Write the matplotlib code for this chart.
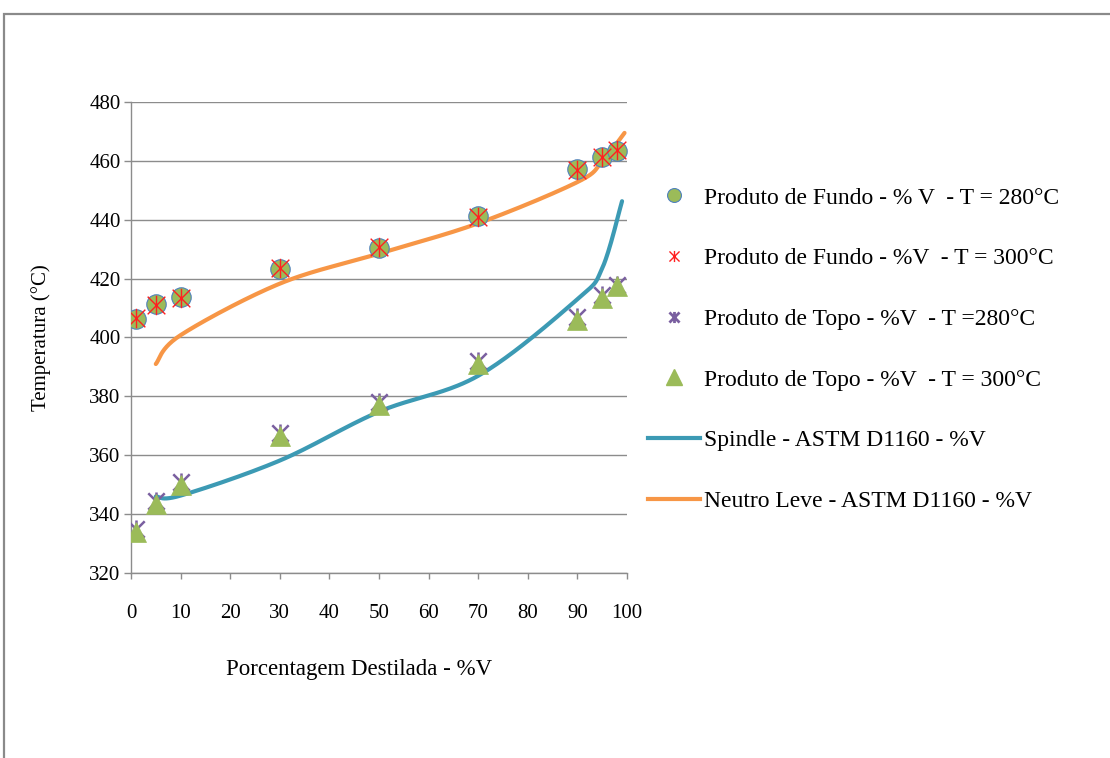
import numpy as np
import matplotlib
matplotlib.use("Agg")
import matplotlib.pyplot as plt
from matplotlib.path import Path
from matplotlib.lines import Line2D
from matplotlib.patches import Rectangle

plt.rcParams["font.family"] = ["Liberation Serif", "DejaVu Serif"]

# Distilled fraction (%V) at which samples were collected
pct_points = [1, 5, 10, 30, 50, 70, 90, 95, 98]

fundo_280 = [406.4, 411.4, 413.7, 423.4, 430.5, 441.2, 457.2, 461.4, 463.4]
fundo_300 = [406.6, 411.2, 413.5, 423.5, 430.6, 441.0, 457.0, 461.2, 463.6]
topo_280 = [335.0, 344.5, 351.0, 367.5, 378.0, 392.0, 407.0, 414.5, 418.0]
topo_300 = [334.0, 343.5, 350.0, 366.5, 377.0, 391.0, 406.0, 413.5, 417.5]

# ASTM D1160 reference curves
spindle_pct = [5, 10, 30, 50, 70, 90, 95, 99]
spindle_temp = [346.0, 346.3, 358.2, 374.8, 387.0, 413.0, 423.5, 446.3]
neutro_pct = [5, 10, 30, 50, 70, 90, 95, 99.5]
neutro_temp = [391.0, 400.8, 418.3, 428.5, 438.8, 452.8, 459.8, 469.5]

x_ticks = list(range(0, 101, 10))
y_ticks = list(range(320, 481, 20))

legend_labels = [
    "Produto de Fundo - % V  - T = 280°C",
    "Produto de Fundo - %V  - T = 300°C",
    "Produto de Topo - %V  - T =280°C",
    "Produto de Topo - %V  - T = 300°C",
    "Spindle - ASTM D1160 - %V",
    "Neutro Leve - ASTM D1160 - %V",
]

GREEN = "#9BBB59"
BLUE_EDGE = "#4F81BD"
RED = "#FF2020"
PURPLE = "#7A5FA0"
TEAL = "#3C9AB4"
ORANGE = "#F79646"
GRID = "#8C8C8C"


def smooth(xs, ys, n=40):
    """Catmull-Rom smoothing through the given points (spreadsheet-style smoothed line)."""
    xs = np.asarray(xs, float)
    ys = np.asarray(ys, float)
    px = np.concatenate([[xs[0]], xs, [xs[-1]]])
    py = np.concatenate([[ys[0]], ys, [ys[-1]]])
    outx, outy = [], []
    t = np.linspace(0, 1, n)
    for i in range(1, len(px) - 2):
        p0, p1, p2, p3 = (np.array([px[j], py[j]]) for j in range(i - 1, i + 3))
        c1 = p1 + (p2 - p0) / 6.0
        c2 = p2 - (p3 - p1) / 6.0
        b = ((1 - t) ** 3)[:, None] * p1 + (3 * (1 - t) ** 2 * t)[:, None] * c1 \
            + (3 * (1 - t) * t ** 2)[:, None] * c2 + (t ** 3)[:, None] * p2
        outx.extend(b[:, 0])
        outy.extend(b[:, 1])
    return np.array(outx), np.array(outy)


# X with a vertical bar, like a spreadsheet "star" marker
star_marker = Path(
    [(-1, -1), (1, 1), (-1, 1), (1, -1), (0, -1.1), (0, 1.1)],
    [Path.MOVETO, Path.LINETO, Path.MOVETO, Path.LINETO, Path.MOVETO, Path.LINETO],
)

fig = plt.figure(figsize=(11.10, 7.58), dpi=100)
ax = fig.add_axes([131 / 1110, 1 - 573 / 758, (627 - 131) / 1110, (573 - 102) / 758])

# Outer chart frame
fig.patches.append(Rectangle((4 / 1110, -0.05), 1.2, 1 - 14 / 758 + 0.05,
                             transform=fig.transFigure, fill=False,
                             edgecolor="#8A8A8A", linewidth=1.6, zorder=0))

ax.set_xlim(0, 100)
ax.set_ylim(320, 480)
ax.set_xticks(x_ticks)
ax.set_yticks(y_ticks)
ax.yaxis.grid(True, color=GRID, linewidth=1.0)
ax.set_axisbelow(True)
for s in ("top", "right"):
    ax.spines[s].set_visible(False)
for s in ("left", "bottom"):
    ax.spines[s].set_color(GRID)
    ax.spines[s].set_linewidth(1.0)
ax.tick_params(axis="both", direction="out", length=5, width=1.0, color=GRID,
               labelsize=15, labelcolor="black")
ax.tick_params(axis="x", length=4.5, pad=18)
ax.tick_params(axis="y", pad=2.5)

sx, sy = smooth(spindle_pct, spindle_temp)
ax.plot(sx, sy, color=TEAL, linewidth=3.0, solid_capstyle="round", zorder=2)
nx, ny = smooth(neutro_pct, neutro_temp)
ax.plot(nx, ny, color=ORANGE, linewidth=3.0, solid_capstyle="round", zorder=2)

ax.plot(pct_points, fundo_280, linestyle="none", marker="o", markersize=14,
        markerfacecolor=GREEN, markeredgecolor=BLUE_EDGE, markeredgewidth=0.8, zorder=3)
ax.plot(pct_points, fundo_300, linestyle="none", marker=star_marker, markersize=14,
        markeredgecolor=RED, markeredgewidth=1.0, zorder=4)
ax.plot(pct_points, topo_280, linestyle="none", marker=star_marker, markersize=13,
        markeredgecolor=PURPLE, markeredgewidth=1.8, zorder=3)
ax.plot(pct_points, topo_300, linestyle="none", marker="^", markersize=15,
        markerfacecolor=GREEN, markeredgecolor=GREEN, markeredgewidth=0.5, zorder=4)

ax.set_ylabel("Temperatura (°C)", fontsize=15)
ax.set_xlabel("Porcentagem Destilada - %V", fontsize=16.5)
ax.yaxis.set_label_coords(-0.162, 0.5)
ax.xaxis.set_label_coords(0.46, -0.183)

handles = [
    Line2D([], [], linestyle="none", marker="o", markersize=10, markerfacecolor=GREEN,
           markeredgecolor=BLUE_EDGE, markeredgewidth=0.8),
    Line2D([], [], linestyle="none", marker=star_marker, markersize=8,
           markeredgecolor=RED, markeredgewidth=1.0),
    Line2D([], [], linestyle="none", marker=star_marker, markersize=8,
           markeredgecolor=PURPLE, markeredgewidth=2.0),
    Line2D([], [], linestyle="none", marker="^", markersize=11, markerfacecolor=GREEN,
           markeredgecolor=GREEN),
    Line2D([], [], color=TEAL, linewidth=3.0),
    Line2D([], [], color=ORANGE, linewidth=3.0),
]
fig.legend(handles, legend_labels, loc="upper left",
           bbox_to_anchor=(648 / 1110, 1 - 187 / 758), frameon=False,
           fontsize=17, labelspacing=1.66, handlelength=2.2, handletextpad=0.18,
           borderaxespad=0, borderpad=0)

fig.savefig("out.png", dpi=100)
